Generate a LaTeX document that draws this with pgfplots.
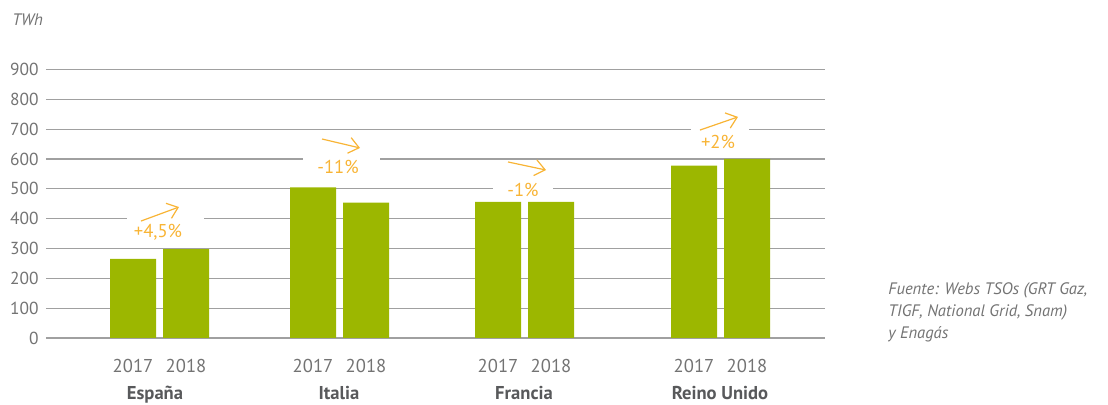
\documentclass[border=0pt]{standalone}
\usepackage{fontspec}
\setmainfont{PT Sans}
\usepackage{pgfplots}
\pgfplotsset{compat=1.18}
\usetikzlibrary{arrows.meta}
\definecolor{bargreen}{HTML}{9CB700}
\definecolor{pctorange}{HTML}{F8B435}
\definecolor{gridgray}{HTML}{A0A0A0}
\definecolor{ticktext}{HTML}{737373}
\definecolor{cattext}{HTML}{58595B}

\begin{document}
\begin{tikzpicture}
% picture frame, 1px = 0.5pt, origin at (x=46px, y=338px)
\path[use as bounding box] (-23pt,-33.5pt) rectangle (531pt,169pt);
\begin{axis}[
  x=0.5pt, y=0.14917pt,
  xmin=46, xmax=825,
  ymin=0, ymax=900,
  axis line style={draw=none},
  ytick={0,100,...,900},
  xtick=\empty,
  major tick length=0pt,
  ymajorgrids,
  grid style={gridgray, line width=0.6pt},
  /pgf/number format/assume math mode=true,
  yticklabel style={font=\fontsize{8.7}{10}\selectfont, text=ticktext, inner sep=0pt, xshift=-3.5pt},
  clip=false,
]
\addplot[ybar, bar width=46, bar shift=0pt, fill=bargreen, draw=none]
  coordinates {(133,265) (313,505) (498,456) (694,578)};
\addplot[ybar, bar width=46, bar shift=0pt, fill=bargreen, draw=none]
  coordinates {(186,298) (366,454) (551,456) (747,600)};

% gaps in the grid behind the change labels
\fill[white] (axis cs:127,385) rectangle (axis cs:204,415);
\fill[white] (axis cs:303,585) rectangle (axis cs:380,615);
\fill[white] (axis cs:493,485) rectangle (axis cs:553,515);
\fill[white] (axis cs:691,685) rectangle (axis cs:749,715);

\begin{scope}[pctorange, line width=0.6pt, -{Straight Barb[length=5pt,width=8pt]}]
\draw (axis cs:141,392) -- (axis cs:179,439);
\draw (axis cs:322,667) -- (axis cs:360,637);
\draw (axis cs:508,590) -- (axis cs:546,563);
\draw (axis cs:700,697) -- (axis cs:738,741);
\end{scope}
\begin{scope}[every node/.style={text=pctorange, font=\fontsize{9.3}{11}\selectfont, inner sep=0pt}]
\node at (axis cs:158,356) {+4,5\%};
\node at (axis cs:338,573) {-11\%};
\node at (axis cs:523,497) {-1\%};
\node at (axis cs:718,657) {+2\%};
\end{scope}

% years and countries
\begin{scope}[every node/.style={text=ticktext, font=\fontsize{9.3}{11}\selectfont, inner sep=0pt, anchor=base}]
\node at ([yshift=-17.5pt]axis cs:133,0) {2017};
\node at ([yshift=-17.5pt]axis cs:186,0) {2018};
\node at ([yshift=-17.5pt]axis cs:313,0) {2017};
\node at ([yshift=-17.5pt]axis cs:366,0) {2018};
\node at ([yshift=-17.5pt]axis cs:498,0) {2017};
\node at ([yshift=-17.5pt]axis cs:551,0) {2018};
\node at ([yshift=-17.5pt]axis cs:694,0) {2017};
\node at ([yshift=-17.5pt]axis cs:747,0) {2018};
\end{scope}
\begin{scope}[every node/.style={text=cattext, font=\fontsize{9.3}{11}\selectfont\bfseries, inner sep=0pt, anchor=base}]
\node at ([yshift=-31pt]axis cs:155,0) {España};
\node at ([yshift=-31pt]axis cs:339,0) {Italia};
\node at ([yshift=-31pt]axis cs:524,0) {Francia};
\node at ([yshift=-31pt]axis cs:720,0) {Reino Unido};
\end{scope}

\node[anchor=base west, inner sep=0pt, text=ticktext, font=\fontsize{8.3}{10}\selectfont\itshape]
  at ([yshift=156pt]axis cs:12,0) {TWh};
\node[anchor=north west, inner sep=0pt, align=left, text=ticktext, font=\fontsize{8.3}{11}\selectfont\itshape]
  at ([yshift=28pt]axis cs:888,0) {Fuente: Webs TSOs (GRT Gaz,\\TIGF, National Grid, Snam)\\y Enagás};
\end{axis}
\end{tikzpicture}
\end{document}
